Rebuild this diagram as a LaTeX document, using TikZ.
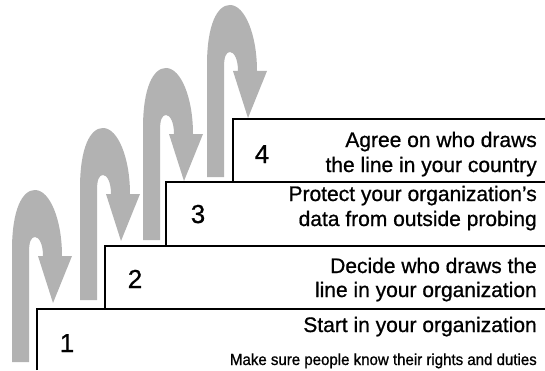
\documentclass[tikz,border=0pt]{standalone}
\usepackage{fontspec}
\setmainfont{Liberation Sans}[FakeBold=0.6]
\newfontfamily\labelsans[FakeBold=0.8]{Liberation Sans}
\newfontfamily\narrowsans[FakeStretch=0.94,FakeBold=0.9]{Liberation Sans}
\begin{document}
\begin{tikzpicture}[x=1pt,y=1pt,
  stepline/.style={draw=black,line width=2pt},
  stepnum/.style={anchor=base,inner sep=0pt,font=\labelsans\fontsize{26}{30}\selectfont},
  steptext/.style={anchor=base east,inner sep=0pt,font=\labelsans\fontsize{21}{25}\selectfont},
  notetext/.style={anchor=base east,inner sep=0pt,font=\narrowsans\fontsize{16}{18}\selectfont},
  pics/hookarrow/.style={code={
    \fill[arrowgray] (0,0) -- (0,112)
      .. controls (0,152) and (10,172) .. (23,172)
      .. controls (38,172) and (50,142) .. (50,106)
      -- (60,106) -- (41,59) -- (26,106) -- (31,106)
      .. controls (31,118) and (27,125) .. (23,125)
      .. controls (19,125) and (17,120) .. (17,110)
      -- (17,0) -- cycle;
  }}]
\definecolor{arrowgray}{RGB}{178,178,178}
\useasboundingbox (0,0) rectangle (545,370);

% hook arrows climbing the stairs
\pic at (12,8) {hookarrow};
\pic at (80,70) {hookarrow};
\pic at (143,130) {hookarrow};
\pic at (207,193) {hookarrow};

% the four steps
\draw[stepline] (37,0) -- (37,61) -- (545,61);
\draw[stepline] (105,61) -- (105,124) -- (545,124);
\draw[stepline] (166,124) -- (166,188) -- (545,188);
\draw[stepline] (233,188) -- (233,251) -- (545,251);

% step numbers
\node[stepnum] (n1) at (67,18) {1};
\node[stepnum] (n2) at (135,82) {2};
\node[stepnum] (n3) at (198,147) {3};
\node[stepnum] (n4) at (262,207) {4};

% step labels
\node[steptext] (t4a) at (537,223) {Agree on who draws};
\node[steptext] (t4b) at (537,198) {the line in your country};
\node[steptext] (t3a) at (537,169) {Protect your organization’s};
\node[steptext] (t3b) at (537,144) {data from outside probing};
\node[steptext] (t2a) at (537,97) {Decide who draws the};
\node[steptext] (t2b) at (537,73) {line in your organization};
\node[steptext] (t1a) at (537,38) {Start in your organization};
\node[notetext] (t1b) at (537,5) {Make sure people know their rights and duties};
\end{tikzpicture}
\end{document}
